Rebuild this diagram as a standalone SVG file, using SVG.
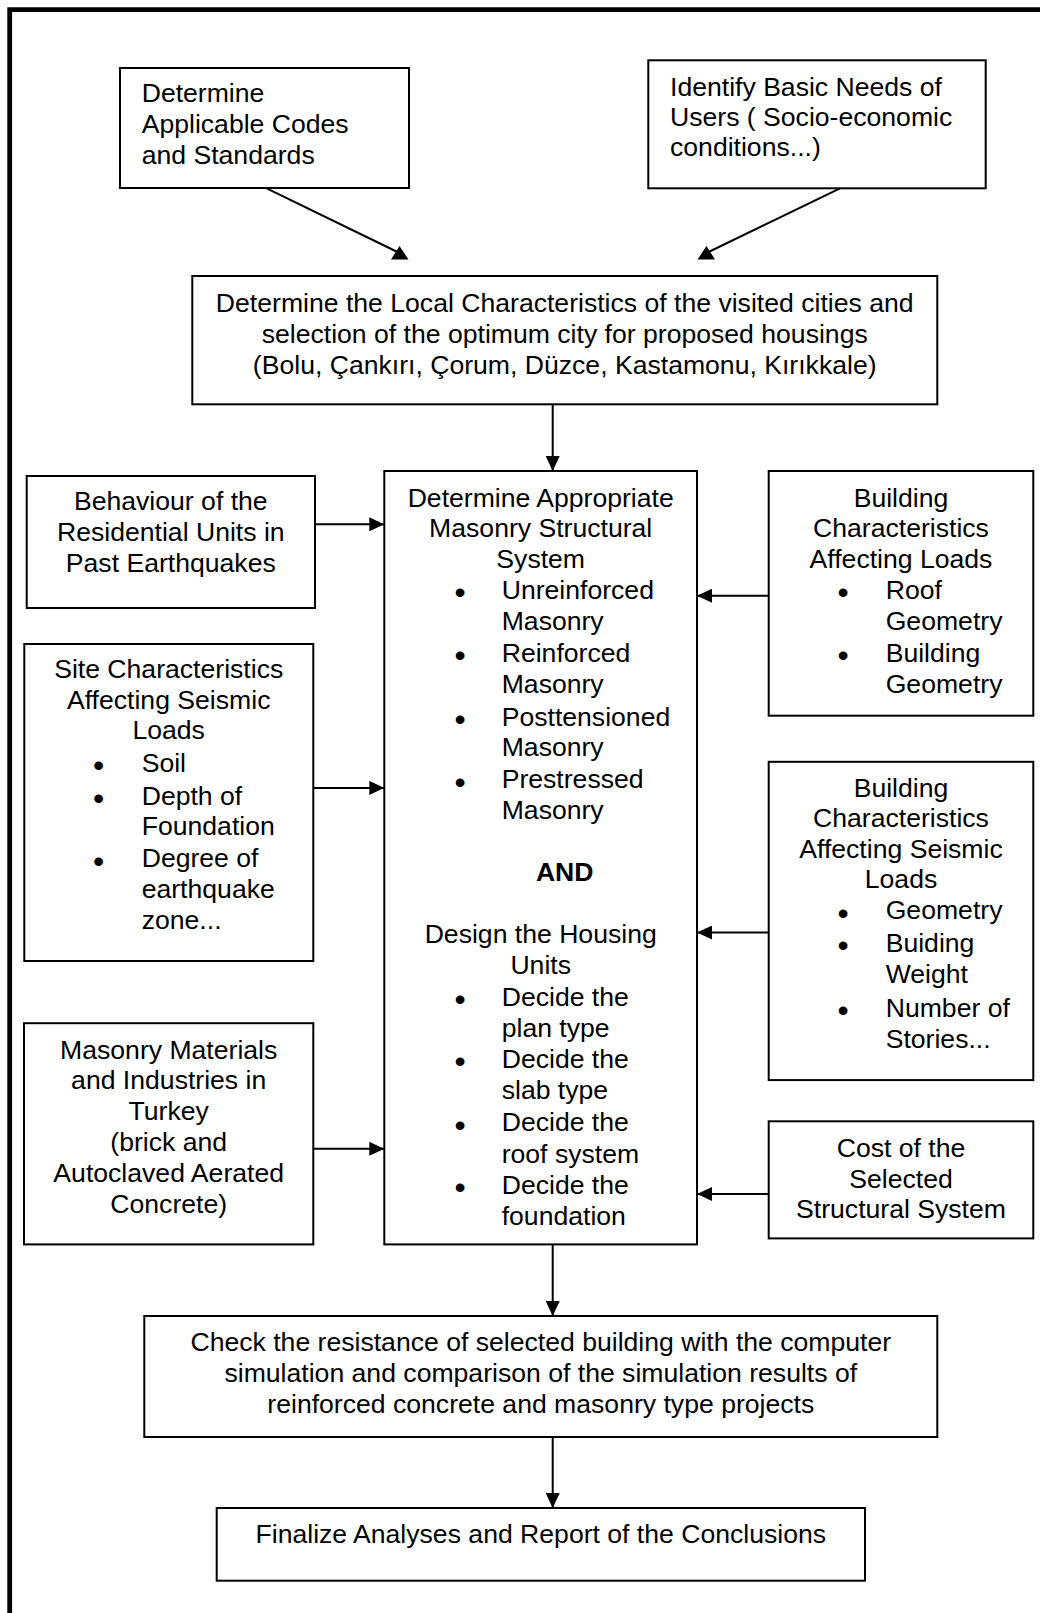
<svg xmlns="http://www.w3.org/2000/svg" width="1040" height="1613" viewBox="0 0 1040 1613">
<defs>
<style>
.box{fill:#fff;stroke:#000;stroke-width:2}
.t{font-family:"Liberation Sans",Arial,sans-serif;font-size:26.6px;fill:#000}
.c{text-anchor:middle}
.b{font-family:"Liberation Sans",Arial,sans-serif;font-size:32px;fill:#000;text-anchor:middle}
.con{stroke:#000;stroke-width:2;fill:none}
.ah{fill:#000;stroke:none}
</style>
<marker id="arr" markerUnits="userSpaceOnUse" markerWidth="15" markerHeight="14" viewBox="0 0 15 14" refX="15" refY="7" orient="auto">
<path d="M0,0 L15,7 L0,14 z" fill="#000"/>
</marker>
</defs>
<rect width="1040" height="1613" fill="#fff"/>
<path d="M9.7,1613 V9.7 H1040" fill="none" stroke="#000" stroke-width="4.8"/>

<g id="connectors">
<line class="con" x1="266.7" y1="188.3" x2="399.5" y2="253"/>
<polygon class="ah" points="391,259.5 408.5,259.5 399.5,246"/>
<line class="con" x1="840" y1="188.3" x2="706.5" y2="253"/>
<polygon class="ah" points="697.5,259.5 715,259.5 706.5,246"/>
<line class="con" x1="552.7" y1="404.3" x2="552.7" y2="471" marker-end="url(#arr)"/>
<line class="con" x1="315" y1="524.3" x2="384.3" y2="524.3" marker-end="url(#arr)"/>
<line class="con" x1="313.3" y1="787.9" x2="384.3" y2="787.9" marker-end="url(#arr)"/>
<line class="con" x1="313.3" y1="1148.8" x2="384.3" y2="1148.8" marker-end="url(#arr)"/>
<line class="con" x1="768.7" y1="595.7" x2="697" y2="595.7" marker-end="url(#arr)"/>
<line class="con" x1="768.7" y1="932.5" x2="697" y2="932.5" marker-end="url(#arr)"/>
<line class="con" x1="768.7" y1="1194" x2="697" y2="1194" marker-end="url(#arr)"/>
<line class="con" x1="552.7" y1="1244.4" x2="552.7" y2="1316" marker-end="url(#arr)"/>
<line class="con" x1="552.7" y1="1437" x2="552.7" y2="1508" marker-end="url(#arr)"/>
</g>

<g id="codes">
<rect class="box" x="120" y="68" width="289" height="120"/>
<text class="t" x="141.7" y="102.3">Determine</text>
<text class="t" x="141.7" y="133">Applicable Codes</text>
<text class="t" x="141.7" y="163.7">and Standards</text>
</g>

<g id="needs">
<rect class="box" x="648.3" y="60.3" width="337.4" height="128"/>
<text class="t" x="670" y="95.7">Identify Basic Needs of</text>
<text class="t" x="670" y="126.3">Users ( Socio-economic</text>
<text class="t" x="670" y="156.3">conditions...)</text>
</g>

<g id="local">
<rect class="box" x="192.3" y="276" width="745" height="128.3"/>
<text class="t c" x="564.7" y="312.3">Determine the Local Characteristics of the visited cities and</text>
<text class="t c" x="564.7" y="343">selection of the optimum city for proposed housings</text>
<text class="t c" x="564.7" y="373.7">(Bolu, Çankırı, Çorum, Düzce, Kastamonu, Kırıkkale)</text>
</g>

<g id="masonry">
<rect class="box" x="384.3" y="471" width="312.7" height="773.4"/>
<text class="t c" x="540.7" y="506.8">Determine Appropriate</text>
<text class="t c" x="540.7" y="537.1">Masonry Structural</text>
<text class="t c" x="540.7" y="567.5">System</text>
<text class="b" x="460" y="603">•</text>
<text class="t" x="501.7" y="598.6">Unreinforced</text>
<text class="t" x="501.7" y="629.8">Masonry</text>
<text class="b" x="460" y="666">•</text>
<text class="t" x="501.7" y="661.6">Reinforced</text>
<text class="t" x="501.7" y="692.6">Masonry</text>
<text class="b" x="460" y="730">•</text>
<text class="t" x="501.7" y="725.6">Posttensioned</text>
<text class="t" x="501.7" y="756.2">Masonry</text>
<text class="b" x="460" y="792.8">•</text>
<text class="t" x="501.7" y="788.4">Prestressed</text>
<text class="t" x="501.7" y="819.2">Masonry</text>
<text class="t c" x="564.7" y="880.8" font-weight="bold">AND</text>
<text class="t c" x="540.7" y="943.2">Design the Housing</text>
<text class="t c" x="540.7" y="973.6">Units</text>
<text class="b" x="460" y="1010.4">•</text>
<text class="t" x="501.7" y="1006">Decide the</text>
<text class="t" x="501.7" y="1036.5">plan type</text>
<text class="b" x="460" y="1072.4">•</text>
<text class="t" x="501.7" y="1068">Decide the</text>
<text class="t" x="501.7" y="1099">slab type</text>
<text class="b" x="460" y="1135.8">•</text>
<text class="t" x="501.7" y="1131.4">Decide the</text>
<text class="t" x="501.7" y="1162.5">roof system</text>
<text class="b" x="460" y="1198.4">•</text>
<text class="t" x="501.7" y="1194">Decide the</text>
<text class="t" x="501.7" y="1224.5">foundation</text>
</g>

<g id="behaviour">
<rect class="box" x="26.7" y="476" width="288.3" height="132"/>
<text class="t c" x="170.8" y="510.4">Behaviour of the</text>
<text class="t c" x="170.8" y="541.2">Residential Units in</text>
<text class="t c" x="170.8" y="571.8">Past Earthquakes</text>
</g>

<g id="site">
<rect class="box" x="24.3" y="644" width="289" height="317"/>
<text class="t c" x="168.7" y="678">Site Characteristics</text>
<text class="t c" x="168.7" y="708.7">Affecting Seismic</text>
<text class="t c" x="168.7" y="739.2">Loads</text>
<text class="b" x="98.5" y="776.2">•</text>
<text class="t" x="141.7" y="771.8">Soil</text>
<text class="b" x="98.5" y="809.2">•</text>
<text class="t" x="141.7" y="804.8">Depth of</text>
<text class="t" x="141.7" y="835.2">Foundation</text>
<text class="b" x="98.5" y="871.6">•</text>
<text class="t" x="141.7" y="867.2">Degree of</text>
<text class="t" x="141.7" y="898.4">earthquake</text>
<text class="t" x="141.7" y="928.8">zone...</text>
</g>

<g id="materials">
<rect class="box" x="24" y="1023.2" width="289.3" height="221.2"/>
<text class="t c" x="168.7" y="1058.7">Masonry Materials</text>
<text class="t c" x="168.7" y="1089.4">and Industries in</text>
<text class="t c" x="168.7" y="1120.3">Turkey</text>
<text class="t c" x="168.7" y="1151.3">(brick and</text>
<text class="t c" x="168.7" y="1182">Autoclaved Aerated</text>
<text class="t c" x="168.7" y="1213">Concrete)</text>
</g>

<g id="loads">
<rect class="box" x="768.7" y="471" width="264.6" height="244.7"/>
<text class="t c" x="901" y="506.8">Building</text>
<text class="t c" x="901" y="537.1">Characteristics</text>
<text class="t c" x="901" y="567.5">Affecting Loads</text>
<text class="b" x="843" y="603">•</text>
<text class="t" x="885.7" y="598.6">Roof</text>
<text class="t" x="885.7" y="629.8">Geometry</text>
<text class="b" x="843" y="666">•</text>
<text class="t" x="885.7" y="661.6">Building</text>
<text class="t" x="885.7" y="692.6">Geometry</text>
</g>

<g id="seismic">
<rect class="box" x="768.7" y="761.8" width="264.6" height="318.3"/>
<text class="t c" x="901" y="796.8">Building</text>
<text class="t c" x="901" y="827">Characteristics</text>
<text class="t c" x="901" y="857.5">Affecting Seismic</text>
<text class="t c" x="901" y="887.9">Loads</text>
<text class="b" x="843" y="923.7">•</text>
<text class="t" x="885.7" y="919.3">Geometry</text>
<text class="b" x="843" y="956.4">•</text>
<text class="t" x="885.7" y="952">Buiding</text>
<text class="t" x="885.7" y="983">Weight</text>
<text class="b" x="843" y="1021.4">•</text>
<text class="t" x="885.7" y="1017">Number of</text>
<text class="t" x="885.7" y="1048">Stories...</text>
</g>

<g id="cost">
<rect class="box" x="768.7" y="1121.3" width="264.6" height="117.1"/>
<text class="t c" x="901" y="1156.8">Cost of the</text>
<text class="t c" x="901" y="1187.6">Selected</text>
<text class="t c" x="901" y="1218.2">Structural System</text>
</g>

<g id="check">
<rect class="box" x="144.3" y="1316" width="793" height="121"/>
<text class="t c" x="540.8" y="1351.4">Check the resistance of selected building with the computer</text>
<text class="t c" x="540.8" y="1382.2">simulation and comparison of the simulation results of</text>
<text class="t c" x="540.8" y="1412.8">reinforced concrete and masonry type projects</text>
</g>

<g id="finalize">
<rect class="box" x="216.7" y="1508" width="648.3" height="72.7"/>
<text class="t c" x="540.8" y="1543.2">Finalize Analyses and Report of the Conclusions</text>
</g>
</svg>
